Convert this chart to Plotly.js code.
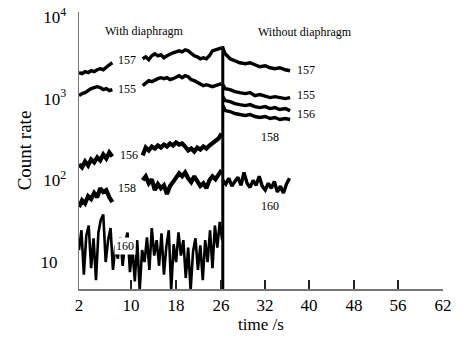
<!DOCTYPE html>
<html>
<head>
<meta charset="utf-8">
<script src="https://cdn.plot.ly/plotly-3.0.1.min.js"></script>
<style>html,body{margin:0;padding:0;background:#fff;}#chart{width:466px;height:343px;}</style>
</head>
<body>
<div id="chart"></div>
<script>
// ---- tick labels ----
const xTickPos = [2, 10.57, 17.99, 25.41, 32.66, 39.91, 47.33, 54.58, 62];
const xTickText = ["2", "10", "18", "26", "32", "40", "48", "56", "62"];
const yTickVals = [10, 100, 1000, 10000];
const yTickText = ["10\u00a0\u00a0", "10<sup>2</sup>", "10<sup>3</sup>", "10<sup>4</sup>"];

// ---- time grids ----
const tLeftA = [2.0,2.5,3.0,3.5,4.0,4.5,5.0,5.5,6.0,6.5,7.0,7.5];
const tLeftB = [12.5,13,13.5,14,14.5,15,15.5,16,16.5,17,17.5,18,18.5,19,19.5,20,20.5,21,21.5,22,22.5,23,23.5,24,24.5,25,25.5];
const tRight = [25.7,26.1,26.9,27.7,28.5,29.4,30.2,31.0,31.8,32.7,33.5,34.3,35.1,36.0,36.8];
const tRight160 = [25.7,26.2,26.7,27.2,27.7,28.2,28.7,29.2,29.7,30.2,30.7,31.2,31.7,32.2,32.7,33.2,33.7,34.2,34.7,35.2,35.7,36.2,36.7];
const tLeft160 = [2.0,2.4,2.8,3.2,3.6,4.0,4.4,4.8,5.2,5.6,6.0,6.4,6.8,7.2,7.6,8.0,8.4,8.8,9.2,9.6,10.0,10.4,10.8,11.2,11.6,12.0,12.4,12.8,13.2,13.6,14.0,14.4,14.8,15.2,15.6,16.0,16.4,16.8,17.2,17.6,18.0,18.4,18.8,19.2,19.6,20.0,20.4,20.8,21.2,21.6,22.0,22.4,22.8,23.2,23.6,24.0,24.4,24.8,25.2,25.6];

// ---- count rates ----
const c157A = [2074,2017,2133,2074,2194,2133,2256,2320,2256,2454,2596,2746];
const c157B = [3072,3249,2987,3342,3535,3342,3437,3159,3342,3535,3635,3739,3845,3739,3955,3845,3535,3342,3249,3072,3159,3072,3342,3845,3955,4067,4183];
const c157R = [4183,3535,3072,2904,2746,2670,2746,2596,2454,2524,2386,2320,2386,2256,2194];

const c155A = [1088,1151,1183,1252,1324,1362,1400,1362,1287,1324,1252,1287];
const c155B = [1440,1523,1657,1611,1704,1753,1803,1753,1803,1704,1753,1854,1907,1803,1907,1854,1704,1657,1567,1481,1440,1481,1440,1400,1440,1481,1523];
const c155R = [1481,1324,1287,1217,1183,1151,1183,1088,1119,1058,1029,1058,1029,1000,1029];

const c156A = [157,144,170,152,180,166,191,175,207,185,219,196];
const c156B = [202,252,232,259,245,267,252,274,259,282,267,290,274,282,259,232,245,225,252,238,259,245,267,282,299,325,374];
const c156R = [1058,946,919,869,845,822,845,799,777,799,755,777,735,755,714];

const c158A = [47,57,52,64,59,70,62,80,72,76,62,54];
const c158B = [100,112,92,103,76,90,80,87,68,85,95,109,122,112,125,106,95,112,97,85,92,80,100,112,103,119,133];
const c158R = [822,714,695,657,639,621,639,604,587,604,571,587,555,571,555];

const c160L = [14,24.5,7,21,28,8.4,19.5,6,23,33,38,10,18.5,26,8,16,11,20,9,17.5,23,7.5,15,5.8,18.5,4.5,14,10,20,8,26,12,18.5,9,22.5,7,15.5,24.5,4.5,16.5,10,23,12,18.5,6.4,15,4.5,13.5,19.5,8,16,6,18.5,10,24.5,8.4,28,15,31,18.5];
const c160R = [100,90,106,85,97,109,87,125,92,82,100,87,112,85,76,92,80,97,72,85,70,90,106];

// switch between "with" and "without" diaphragm
const switchT = [25.7, 25.7];
const switchC = [4.6, 4400];

// ---- labels ----
const headerText = ["With diaphragm", "Without diaphragm"];
const seriesLabels = ["157","155","157","155","156","158","156","158","160","160"];

const segs = [
  [tLeftA, c157A, 3.4],[tLeftB, c157B, 3.4],[tRight, c157R, 3.4],
  [tLeftA, c155A, 3.4],[tLeftB, c155B, 3.4],[tRight, c155R, 3.4],
  [tLeftA, c156A, 4.2],[tLeftB, c156B, 4.2],[tRight, c156R, 3.4],
  [tLeftA, c158A, 4.2],[tLeftB, c158B, 4.2],[tRight, c158R, 3.4],
  [tLeft160, c160L, 2.6],[tRight160, c160R, 3.4],
  [switchT, switchC, 3.0]
];
const traces = segs.map(function(s){
  return {x: s[0], y: s[1], type: 'scatter', mode: 'lines',
          line: {color: '#000', width: s[2]}, hoverinfo: 'skip', showlegend: false};
});

const labelPos = [
  [0.132, 0.827],[0.132, 0.722],[0.624, 0.791],[0.624, 0.700],[0.624, 0.632],
  [0.525, 0.549],[0.137, 0.484],[0.132, 0.365],[0.126, 0.155],[0.525, 0.300]
];
const annFont = {family: 'Liberation Serif, Times New Roman, serif', size: 12, color: '#000000'};
const annotations = [
  {text: headerText[0], x: 0.179, y: 0.931},
  {text: headerText[1], x: 0.621, y: 0.928}
].concat(seriesLabels.map(function(t, i){
  return {text: t, x: labelPos[i][0], y: labelPos[i][1]};
})).map(function(a){
  return Object.assign({xref: 'paper', yref: 'paper', showarrow: false,
    xanchor: 'center', yanchor: 'middle', font: annFont}, a);
});
annotations[10].bgcolor = '#fff';

const serif = 'Liberation Serif, Times New Roman, serif';
const layout = {
  width: 466, height: 343,
  margin: {l: 79, r: 23, t: 12, b: 54},
  paper_bgcolor: '#fff', plot_bgcolor: '#fff',
  showlegend: false,
  xaxis: {
    range: [2, 62], tickmode: 'array', tickvals: xTickPos, ticktext: xTickText,
    ticks: 'inside', ticklen: 9, tickwidth: 1.5, tickcolor: '#222',
    showline: true, linecolor: '#777', linewidth: 1.5,
    showgrid: false, zeroline: false,
    tickfont: {family: serif, size: 17, color: '#000'},
    title: {text: 'time /s', font: {family: serif, size: 17, color: '#000'}, standoff: 1}
  },
  yaxis: {
    type: 'log', range: [0.67, 4.06], tickmode: 'array', tickvals: yTickVals, ticktext: yTickText,
    ticks: '', showline: true, linecolor: '#777', linewidth: 1.5,
    showgrid: false, zeroline: false, ticklabelstandoff: 8,
    tickfont: {family: serif, size: 17, color: '#000'},
    title: {text: 'Count rate', font: {family: serif, size: 19, color: '#000'}, standoff: 4}
  },
  annotations: annotations
};
Plotly.newPlot('chart', traces, layout, {staticPlot: true, displayModeBar: false});
</script>
</body>
</html>
